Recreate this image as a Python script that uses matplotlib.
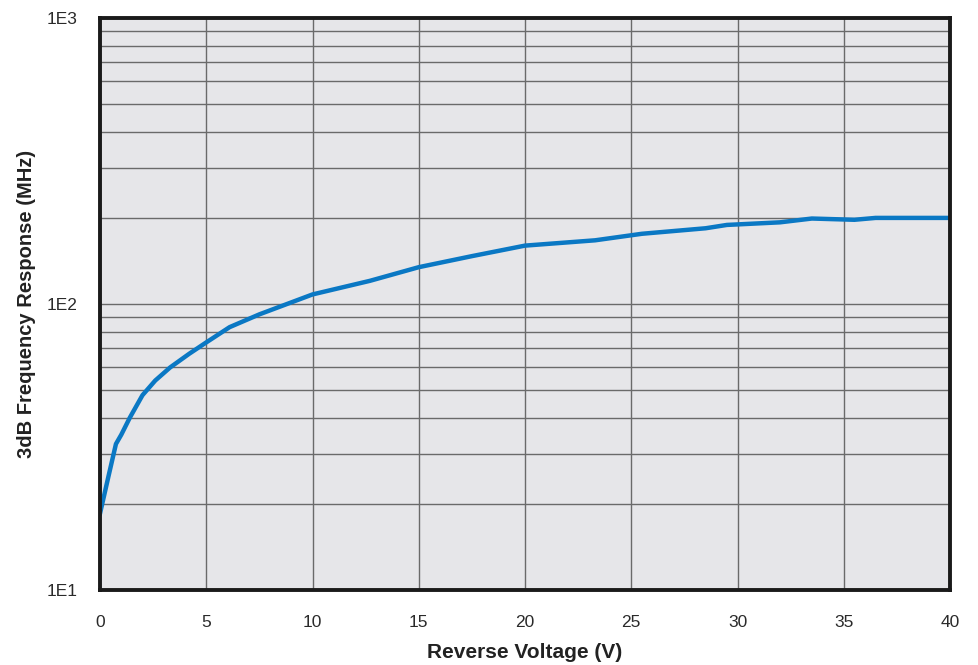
import numpy as np
import matplotlib.pyplot as plt
from matplotlib.ticker import LogLocator, FixedLocator, NullFormatter

plt.rcParams['font.family'] = ['Liberation Sans', 'DejaVu Sans']

# Curve (V, MHz)
voltage = [0, 0.4, 0.75, 1.0, 1.4, 2.0, 2.6, 3.3, 4.2, 5.0, 6.1, 7.5, 8.8, 10,
           12.7, 15, 17.5, 20, 23.3, 25.5, 28.5, 29.5, 32, 33.5, 35.5, 36.5, 40]
freq_3db = [18.5, 25, 32.4, 34.9, 40, 48, 54, 60, 67, 73.4, 83, 92, 100, 108,
            120.5, 134.5, 147, 160, 167, 176, 184, 189, 193, 199, 197, 200, 200]

x_ticks = [0, 5, 10, 15, 20, 25, 30, 35, 40]
y_ticks = [10, 100, 1000]
y_tick_labels = ['1E1', '1E2', '1E3']

fig = plt.figure(figsize=(9.79, 6.65), dpi=100)
ax = fig.add_axes([100 / 979, 75 / 665, 850 / 979, 572 / 665])
ax.set_facecolor('#e6e6e9')

ax.plot(voltage, freq_3db, color='#0a78c4', lw=3.2, solid_joinstyle='round', zorder=3)

ax.set_yscale('log')
ax.set_xlim(0, 40)
ax.set_ylim(10, 1000)

ax.xaxis.set_major_locator(FixedLocator(x_ticks))
ax.yaxis.set_major_locator(FixedLocator(y_ticks))
ax.set_yticklabels(y_tick_labels)
ax.yaxis.set_minor_locator(LogLocator(base=10, subs=np.arange(2, 10)))
ax.yaxis.set_minor_formatter(NullFormatter())

ax.grid(True, which='major', color='#6a6a6a', lw=1.0)
ax.grid(True, which='minor', axis='y', color='#6a6a6a', lw=1.0)

ax.tick_params(axis='both', which='both', length=0, labelsize=12.5,
               labelcolor='#2a2a2a')
ax.tick_params(axis='x', pad=18)
ax.tick_params(axis='y', pad=16)

for sp in ax.spines.values():
    sp.set_linewidth(2.8)
    sp.set_color('#1a1a1a')
    sp.set_zorder(4)

ax.set_xlabel('Reverse Voltage (V)', fontsize=15, fontweight='bold',
              color='#222222', labelpad=9)
ax.set_ylabel('3dB Frequency Response (MHz)', fontsize=14.5, fontweight='bold',
              color='#222222', labelpad=8)

fig.savefig('out.png', dpi=100)
plt.close(fig)
